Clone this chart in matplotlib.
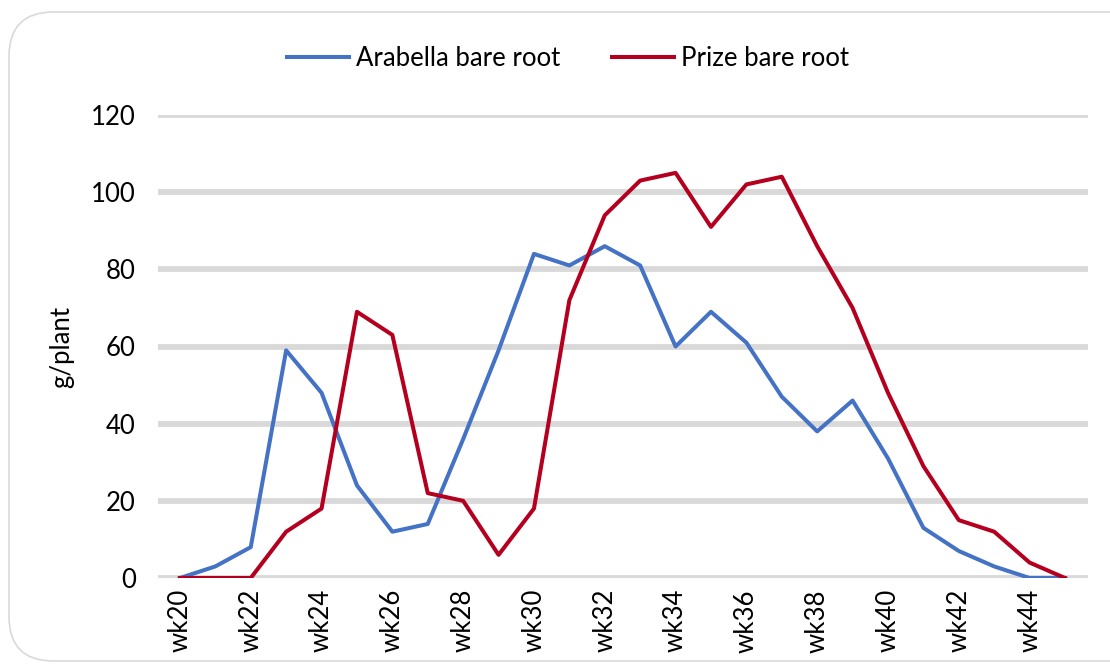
import matplotlib
matplotlib.use('Agg')
import matplotlib.pyplot as plt
from matplotlib.patches import FancyBboxPatch

# weekly yield per plant
weeks = ['wk%d' % w for w in range(20, 46)]
arabella = [0, 3, 8, 59, 48, 24, 12, 14, 36, 59, 84, 81, 86, 81, 60, 69, 61, 47, 38, 46, 31, 13, 7, 3, 0, 0]
prize = [0, 0, 0, 12, 18, 69, 63, 22, 20, 6, 18, 72, 94, 103, 105, 91, 102, 104, 86, 70, 48, 29, 15, 12, 4, 0]
yticks = [0, 20, 40, 60, 80, 100, 120]

plt.rcParams['font.family'] = ['Lato', 'DejaVu Sans']
fs = 18.5

fig = plt.figure(figsize=(11.1, 6.66), dpi=100)
ax = fig.add_axes([158 / 1110, 1 - 578 / 666, (1088 - 158) / 1110, (578 - 115) / 666])

# rounded chart border
border = FancyBboxPatch((9 / 1110, 5 / 666), 1.2, 1 - 17 / 666,
                        boxstyle='round,pad=0,rounding_size=0.04',
                        transform=fig.transFigure, fill=False,
                        edgecolor='#D9D9D9', linewidth=1.2, mutation_aspect=1110 / 666)
fig.patches.append(border)

x = list(range(len(weeks)))
ax.plot(x, arabella, color='#4472C4', linewidth=2.9, label='Arabella bare root', zorder=3,
        solid_joinstyle='round')
ax.plot(x, prize, color='#B4001E', linewidth=2.9, label='Prize bare root', zorder=3,
        solid_joinstyle='round')

ax.set_ylim(0, 120)
ax.set_xlim(-0.62, 25.65)
ax.set_yticks(yticks)
ax.set_xticks(x[::2])
ax.set_xticklabels(weeks[::2], rotation=90)
ax.tick_params(length=0, labelsize=fs)
ax.tick_params(axis='y', pad=16)
ax.tick_params(axis='x', pad=8)
for y in yticks:
    ax.axhline(y, color='#D9D9D9', linewidth=4.2, zorder=1)
for s in ax.spines.values():
    s.set_visible(False)
ax.set_ylabel('g/plant', fontsize=fs, labelpad=12)

ax.legend(loc='lower center', bbox_to_anchor=(0.441, 1.045), ncol=2, frameon=False,
          fontsize=fs, handlelength=2.4, columnspacing=2.0, handletextpad=0.3)

fig.savefig('out.png', dpi=100)
